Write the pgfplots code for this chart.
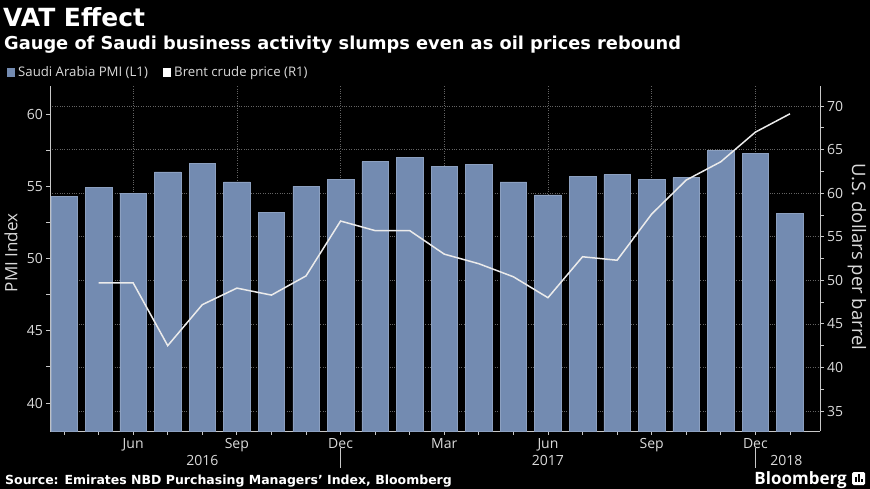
\documentclass[border=0pt]{standalone}
\usepackage{pgfplots}
\pgfplotsset{compat=1.18}
\usepackage{fontspec}
\setmainfont{Open Sans}
\newfontfamily\boldfont{DejaVu Sans}
\definecolor{barfill}{RGB}{115,139,177}
\definecolor{baredge}{RGB}{140,160,192}
\definecolor{txt}{RGB}{218,218,218}
\definecolor{gridc}{RGB}{100,100,100}
\definecolor{axc}{RGB}{200,200,200}
\pgfplotsset{
  common/.style={at={(0bp,0bp)}, anchor=south west, scale only axis,
    width=770bp, height=345bp, xmin=0.594, xmax=22.87,
    /pgf/number format/assume math mode=true,
    tick align=outside,
    ticklabel style={font=\fontsize{14bp}{14bp}\selectfont, text=txt},
    axis line style={axc, line width=0.8bp},
    major tick length=3.5bp, minor tick length=3.5bp,
    every tick/.style={axc, line width=0.8bp},
    every minor tick/.style={axc, line width=0.8bp},
  }
}
\begin{document}
\begin{tikzpicture}
\useasboundingbox (-50bp,-58bp) rectangle (820bp,431bp);
\fill[black] (-50bp,-58bp) rectangle (820bp,431bp);

% right axis: scale, ticks and horizontal grid
\begin{axis}[common, ymin=32.705, ymax=72.295,
  axis x line=none, axis y line*=right,
  ytick={35,40,...,70}, minor y tick num=1,
  ymajorgrids, major grid style={gridc, dotted, line width=0.7bp},
  yticklabel style={anchor=west, xshift=0bp}]
\addplot[draw=none] coordinates {(1,50)};
\end{axis}

% left axis: PMI bars
\begin{axis}[common, ymin=38.062, ymax=61.938,
  axis x line*=bottom, axis y line*=left,
  clip mode=individual,
  ytick={40,45,...,60}, minor y tick num=1,
  xtick={3,6,...,21}, xticklabels={Jun,Sep,Dec,Mar,Jun,Sep,Dec},
  minor xtick={1,...,22},
  xmajorgrids, major grid style={gridc, dotted, line width=0.7bp},
  xticklabel style={anchor=base, yshift=-14bp},
  ybar, bar width=26.5bp]
\addplot[fill=barfill, draw=baredge, line width=0.5bp] coordinates {
(1,54.3) (2,54.9) (3,54.5) (4,56.0) (5,56.6) (6,55.3) (7,53.2) (8,55.0)
(9,55.5) (10,56.7) (11,57.0) (12,56.4) (13,56.5) (14,55.3) (15,54.4)
(16,55.7) (17,55.8) (18,55.5) (19,55.6) (20,57.5) (21,57.3) (22,53.1)};
\node[anchor=base, font=\fontsize{14bp}{14bp}\selectfont, text=txt, yshift=-34bp] at (axis cs:5,38.062) {2016};
\node[anchor=base, font=\fontsize{14bp}{14bp}\selectfont, text=txt, yshift=-34bp] at (axis cs:15,38.062) {2017};
\node[anchor=base, font=\fontsize{14bp}{14bp}\selectfont, text=txt, yshift=-34bp] at (axis cs:21.9,38.062) {2018};
\draw[axc, line width=0.8bp] (axis cs:9,38.062) ++(0bp,-17bp) -- ++(0bp,-20bp);
\draw[axc, line width=0.8bp] (axis cs:21,38.062) ++(0bp,-17bp) -- ++(0bp,-20bp);
\end{axis}

% Brent line on right scale
\begin{axis}[common, ymin=32.705, ymax=72.295, hide axis]
\addplot[color=white!92!black, line width=1.5bp, mark=none] coordinates {
(2,49.7) (3,49.7) (4,42.5) (5,47.2) (6,49.1) (7,48.3) (8,50.5) (9,56.8)
(10,55.7) (11,55.7) (12,53.0) (13,51.9) (14,50.4) (15,48.0) (16,52.7)
(17,52.3) (18,57.6) (19,61.5) (20,63.6) (21,67.0) (22,69.1)};
\end{axis}

% axis titles
\node[rotate=90, font=\fontsize{17bp}{17bp}\selectfont, text=txt] at (-39bp,178bp) {PMI Index};
\node[rotate=-90, font=\fontsize{18.5bp}{18.5bp}\selectfont, text=txt] at (807bp,174bp) {U.S. dollars per barrel};

% title and subtitle
\node[anchor=base west, inner sep=0pt, font=\boldfont\bfseries\fontsize{25bp}{25bp}\selectfont, text=white] at (-47bp,404bp) {VAT Effect};
\node[anchor=base west, inner sep=0pt, font=\boldfont\bfseries\fontsize{17.8bp}{17.8bp}\selectfont, text=white] at (-46bp,381bp) {Gauge of Saudi business activity slumps even as oil prices rebound};

% legend
\fill[barfill] (-43bp,354bp) rectangle (-35bp,363bp);
\node[anchor=base west, inner sep=0pt, font=\fontsize{13.2bp}{13.2bp}\selectfont, text=txt] at (-32bp,354bp) {Saudi Arabia PMI (L1)};
\fill[white] (113bp,354bp) rectangle (121bp,363bp);
\node[anchor=base west, inner sep=0pt, font=\fontsize{13.2bp}{13.2bp}\selectfont, text=txt] at (124bp,354bp) {Brent crude price (R1)};

% source and logo
\node[anchor=base west, inner sep=0pt, font=\boldfont\bfseries\fontsize{12.5bp}{12.5bp}\selectfont, text=white] at (-45bp,-53bp) {Source: Emirates NBD Purchasing Managers’ Index, Bloomberg};
\node[anchor=base east, inner sep=0pt, font=\bfseries\fontsize{17bp}{17bp}\selectfont, text=white] at (797bp,-53bp) {Bloomberg};
\fill[white, rounded corners=1.5bp] (802bp,-54bp) rectangle (815bp,-41bp);
\fill[black] (805bp,-51bp) rectangle (806.5bp,-46bp);
\fill[black] (808bp,-51bp) rectangle (809.5bp,-43bp);
\fill[black] (811bp,-51bp) rectangle (812.5bp,-48bp);
\end{tikzpicture}
\end{document}
